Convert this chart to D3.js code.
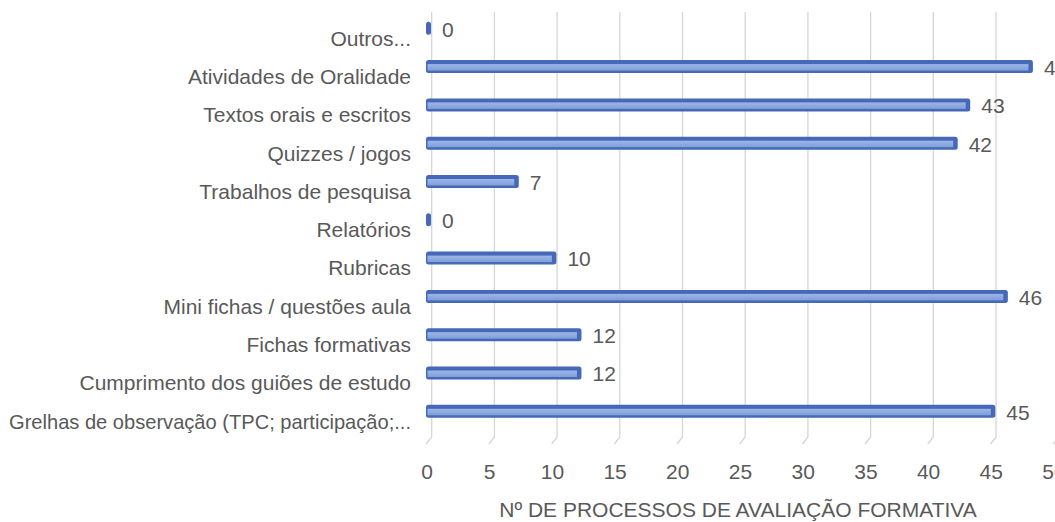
<!DOCTYPE html>
<html>
<head>
<meta charset="utf-8">
<script src="https://cdn.jsdelivr.net/npm/d3@7"></script>
<style>
  html, body { margin: 0; padding: 0; background: #fff; overflow: hidden; }
  svg { display: block; font-family: "Liberation Sans", Arial, sans-serif; }
</style>
</head>
<body>
<svg id="chart" width="1055" height="522"></svg>
<script>
// categories top to bottom, as in the picture
const categories = [
  'Outros...',
  'Atividades de Oralidade',
  'Textos orais e escritos',
  'Quizzes / jogos',
  'Trabalhos de pesquisa',
  'Relatórios',
  'Rubricas',
  'Mini fichas / questões aula',
  'Fichas formativas',
  'Cumprimento dos guiões de estudo',
  'Grelhas de observação (TPC; participação;...'
]
const values = [0, 48, 43, 42, 7, 0, 10, 46, 12, 12, 45]
const xTicks = [0, 5, 10, 15, 20, 25, 30, 35, 40, 45, 50]
const axisTitle = 'Nº DE PROCESSOS DE AVALIAÇÃO FORMATIVA'

const svg = d3.select('#chart')
const textColor = '#595959'

const xScale = d3.scaleLinear().domain([0, 50]).range([427, 1054])
const yScale = d3.scalePoint().domain(categories).range([28.3, 411.3])

// bar gradient
const defs = svg.append('defs')
const grad = defs.append('linearGradient')
  .attr('id', 'barFace')
  .attr('x1', 0).attr('y1', 0).attr('x2', 0).attr('y2', 1)
grad.append('stop').attr('offset', '0%').attr('stop-color', '#9db6e6')
grad.append('stop').attr('offset', '100%').attr('stop-color', '#7f9ed9')

// gridlines: back wall + slanted floor
const depth = 4.7
const grid = svg.append('g').attr('class', 'grid')
grid.selectAll('path')
  .data(xTicks)
  .enter()
  .append('path')
  .attr('d', function(d) {
    const x = xScale(d) + depth
    return 'M' + x + ',12 L' + x + ',437 L' + (x - 5.5) + ',444'
  })
  .attr('fill', 'none')
  .attr('stroke', '#d6d6d6')
  .attr('stroke-width', 1.3)

// category labels (squeeze the long one so it stays inside the picture)
const labelRight = 411
svg.append('g')
  .selectAll('text')
  .data(categories)
  .enter()
  .append('text')
  .attr('x', labelRight)
  .attr('y', function(d) { return yScale(d) + 10 })
  .attr('dy', '0.35em')
  .attr('text-anchor', 'end')
  .attr('font-size', 21)
  .attr('fill', textColor)
  .text(function(d) { return d })
  .each(function() {
    const maxW = labelRight - 9
    if (this.getComputedTextLength() > maxW) {
      d3.select(this)
        .attr('textLength', maxW)
        .attr('lengthAdjust', 'spacingAndGlyphs')
    }
  })

// bars
const barH = 13
const bars = svg.append('g').attr('class', 'bars')
  .selectAll('g')
  .data(values)
  .enter()
  .append('g')
  .attr('transform', function(d, i) {
    return 'translate(0,' + (yScale(categories[i]) - barH / 2) + ')'
  })

bars.append('rect')
  .attr('x', xScale(0) - 1)
  .attr('y', 0)
  .attr('width', function(d) { return xScale(d) + 4 - (xScale(0) - 1) })
  .attr('height', barH)
  .attr('rx', 2.5)
  .attr('fill', '#4569b8')

bars.append('rect')
  .attr('x', xScale(0) + 0.5)
  .attr('y', 4)
  .attr('width', function(d) { return Math.max(0, xScale(d) - xScale(0) - 1) })
  .attr('height', 6.5)
  .attr('fill', 'url(#barFace)')

// value labels
svg.append('g')
  .selectAll('text')
  .data(values)
  .enter()
  .append('text')
  .attr('x', function(d) { return xScale(d) + 15 })
  .attr('y', function(d, i) { return yScale(categories[i]) + 1 })
  .attr('dy', '0.35em')
  .attr('font-size', 21)
  .attr('fill', textColor)
  .text(function(d) { return d })

// x tick labels
svg.append('g')
  .selectAll('text')
  .data(xTicks)
  .enter()
  .append('text')
  .attr('x', function(d) { return xScale(d) })
  .attr('y', 472)
  .attr('dy', '0.35em')
  .attr('text-anchor', 'middle')
  .attr('font-size', 21)
  .attr('fill', textColor)
  .text(function(d) { return d })

// axis title
svg.append('text')
  .attr('x', 738)
  .attr('y', 510)
  .attr('dy', '0.35em')
  .attr('text-anchor', 'middle')
  .attr('font-size', 21)
  .attr('fill', textColor)
  .text(axisTitle)
</script>
</body>
</html>
